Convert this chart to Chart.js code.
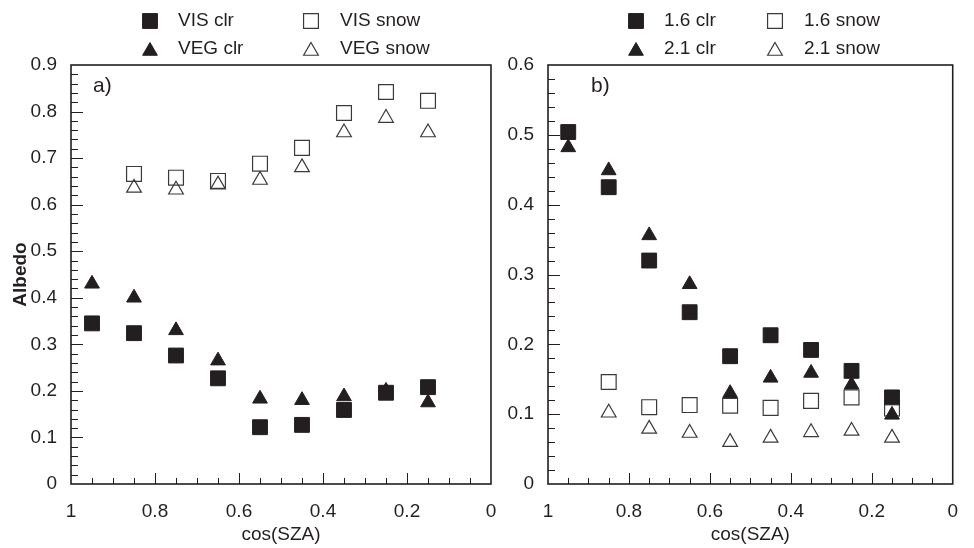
<!DOCTYPE html>
<html>
<head>
<meta charset="utf-8">
<script src="https://cdn.jsdelivr.net/npm/chart.js@4.4.1/dist/chart.umd.min.js"></script>
<style>
  html, body { margin: 0; padding: 0; background: #fff; }
  #wrap { position: relative; width: 974px; height: 548px; }
  #wrap canvas { position: absolute; left: 0; top: 0; }
</style>
</head>
<body>
<div id="wrap">
  <canvas id="chartA" width="974" height="548"></canvas>
  <canvas id="chartB" width="974" height="548"></canvas>
</div>
<script>
// cos(SZA) bins
const cosSza = [0.95, 0.85, 0.75, 0.65, 0.55, 0.45, 0.35, 0.25, 0.15];

// panel a) visible / vegetation albedo
const visClr  = [0.345, 0.324, 0.276, 0.227, 0.122, 0.127, 0.159, 0.196, 0.208];
const vegClr  = [0.430, 0.400, 0.330, 0.265, 0.183, 0.180, 0.188, 0.200, 0.175];
const visSnow = [null, 0.666, 0.658, 0.651, 0.688, 0.722, 0.797, 0.842, 0.823];
const vegSnow = [null, 0.636, 0.632, 0.643, 0.653, 0.680, 0.755, 0.786, 0.755];

// panel b) 1.6 / 2.1 micron albedo
const clr16  = [0.504, 0.425, 0.320, 0.246, 0.183, 0.213, 0.192, 0.162, 0.124];
const clr21  = [0.482, 0.449, 0.356, 0.286, 0.130, 0.152, 0.159, 0.142, 0.099];
const snow16 = [null, 0.146, 0.110, 0.113, 0.112, 0.109, 0.119, 0.124, 0.108];
const snow21 = [null, 0.102, 0.079, 0.073, 0.060, 0.066, 0.074, 0.076, 0.066];

const labelsA = ["VIS clr", "VEG clr", "VIS snow", "VEG snow"];
const labelsB = ["1.6 clr", "2.1 clr", "1.6 snow", "2.1 snow"];

const INK = "#231f20";
const FONT = "'Liberation Sans', Arial, Helvetica, sans-serif";

function pts(vals) {
  return cosSza.map((x, i) => ({ x: x, y: vals[i] })).filter(p => p.y !== null);
}

function series(label, vals, filled, shape) {
  return {
    label: label,
    data: pts(vals),
    pointStyle: shape,
    pointRadius: shape === "rect" ? 10.5 : 8.5,
    backgroundColor: filled ? INK : "rgba(0,0,0,0)",
    borderColor: filled ? INK : "#3a3a3a",
    borderWidth: filled ? 1 : 1.2,
    showLine: false
  };
}

const fmt = v => String(Math.round(v * 10) / 10);

// frame, inside ticks, panel letter, 2x2 legend
const panelDecor = {
  id: "panelDecor",
  afterDraw(chart, args, o) {
    const ctx = chart.ctx;
    const a = chart.chartArea;
    const xs = chart.scales.x, ys = chart.scales.y;
    ctx.save();
    ctx.strokeStyle = INK;
    ctx.lineWidth = 1;
    // x ticks
    const nx = Math.round((xs.max - xs.min) / 0.05);
    for (let i = 1; i < nx; i++) {
      const v = xs.min + i * 0.05;
      const len = i % 4 === 0 ? 11 : 6;
      const px = Math.round(xs.getPixelForValue(v)) + 0.5;
      ctx.beginPath(); ctx.moveTo(px, a.bottom); ctx.lineTo(px, a.bottom - len); ctx.stroke();
    }
    // y ticks
    const ny = Math.round((ys.max - ys.min) / 0.02);
    for (let i = 1; i < ny; i++) {
      const v = ys.min + i * 0.02;
      const len = i % 5 === 0 ? 12 : 7;
      const py = Math.round(ys.getPixelForValue(v)) + 0.5;
      ctx.beginPath(); ctx.moveTo(a.left, py); ctx.lineTo(a.left + len, py); ctx.stroke();
    }
    // frame
    ctx.lineWidth = 1.6;
    ctx.strokeRect(a.left, a.top, a.right - a.left, a.bottom - a.top);

    // panel letter
    ctx.fillStyle = INK;
    ctx.font = "21px " + FONT;
    ctx.textBaseline = "middle";
    ctx.textAlign = "left";
    ctx.fillText(o.letter, a.left + o.letterDx, a.top + 21);

    // legend
    ctx.font = "19px " + FONT;
    chart.data.datasets.forEach((ds, i) => {
      const col = Math.floor(i / 2), row = i % 2;
      const y = o.legRows[row];
      const mx = o.legMarks[col];
      ctx.fillStyle = ds.backgroundColor;
      ctx.strokeStyle = ds.borderColor;
      ctx.lineWidth = ds.borderWidth;
      Chart.helpers.drawPoint(ctx, {
        pointStyle: ds.pointStyle, radius: ds.pointRadius, rotation: 0, borderWidth: ds.borderWidth
      }, mx, ds.pointStyle === "triangle" ? y + 2 : y);
      ctx.fillStyle = INK;
      ctx.fillText(ds.label, o.legText[col], y);
    });
    ctx.restore();
  }
};

function makeChart(id, datasets, ymax, pad, yWidth, showYTitle, decor) {
  return new Chart(document.getElementById(id), {
    type: "scatter",
    data: { datasets: datasets },
    plugins: [panelDecor],
    options: {
      responsive: false,
      animation: false,
      events: [],
      layout: { padding: pad },
      plugins: {
        legend: { display: false },
        tooltip: { enabled: false },
        panelDecor: decor
      },
      scales: {
        x: {
          type: "linear", min: 0, max: 1, reverse: true,
          grid: { display: false, drawTicks: false },
          border: { display: false },
          ticks: { stepSize: 0.2, color: INK, padding: 16, callback: fmt,
                   font: { family: FONT, size: 19 } },
          title: { display: true, text: "cos(SZA)", color: INK, padding: { top: 0, bottom: 2 },
                   font: { family: FONT, size: 19 } },
          afterFit: s => { s.height = 64; }
        },
        y: {
          type: "linear", min: 0, max: ymax,
          grid: { display: false, drawTicks: false },
          border: { display: false },
          ticks: { stepSize: 0.1, color: INK, padding: 14, callback: fmt,
                   font: { family: FONT, size: 19 } },
          title: { display: showYTitle, text: "Albedo", color: INK, padding: { top: 9, bottom: 0 },
                   font: { family: FONT, size: 19, weight: "bold" } },
          afterFit: s => { s.width = yWidth; }
        }
      }
    }
  });
}

makeChart("chartA", [
  series(labelsA[0], visClr, true, "rect"),
  series(labelsA[1], vegClr, true, "triangle"),
  series(labelsA[2], visSnow, false, "rect"),
  series(labelsA[3], vegSnow, false, "triangle")
], 0.9, { left: 0, top: 65, right: 483, bottom: 0 }, 71, true,
  { letter: "a)", letterDx: 22, legRows: [21, 49], legMarks: [150, 311], legText: [178, 340] });

makeChart("chartB", [
  series(labelsB[0], clr16, true, "rect"),
  series(labelsB[1], clr21, true, "triangle"),
  series(labelsB[2], snow16, false, "rect"),
  series(labelsB[3], snow21, false, "triangle")
], 0.6, { left: 497, top: 65, right: 6, bottom: 0 }, 51, false,
  { letter: "b)", letterDx: 43, legRows: [21, 49], legMarks: [636, 775], legText: [664, 804] });
</script>
</body>
</html>
